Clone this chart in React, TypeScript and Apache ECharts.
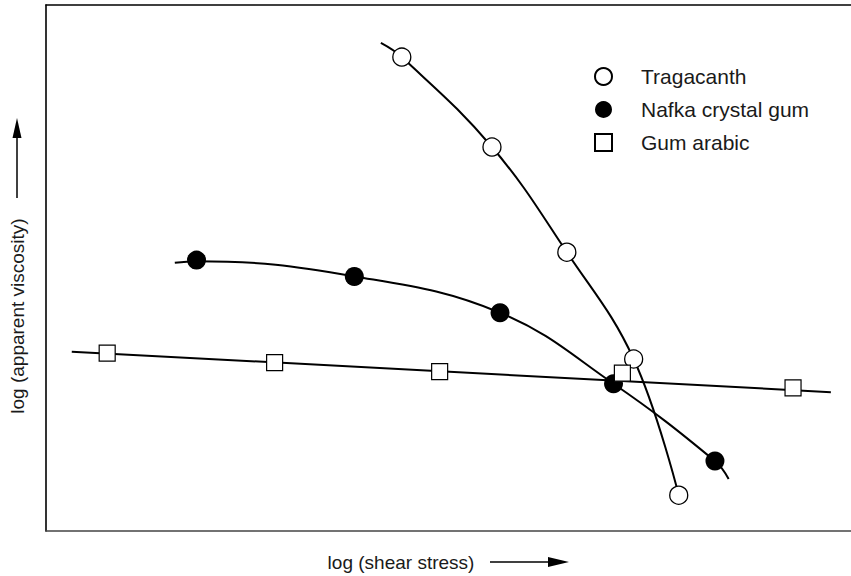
import React, { useEffect, useRef } from "react";
import * as echarts from "echarts";

// Arbitrary log units (no tick labels on the reference)
const xRange = [0, 10];
const yRange = [0, 10];

const seriesNames = ["Tragacanth", "Nafka crystal gum", "Gum arabic"];

// Measured points
const tragacanthPoints = [
  [4.42, 9.01],
  [5.54, 7.3],
  [6.47, 5.3],
  [7.3, 3.27],
  [7.86, 0.68],
];
const nafkaPoints = [
  [1.87, 5.15],
  [3.83, 4.84],
  [5.64, 4.15],
  [7.05, 2.8],
  [8.31, 1.33],
];
const gumArabicPoints = [
  [0.76, 3.38],
  [2.84, 3.2],
  [4.89, 3.03],
  [7.16, 3.0],
  [9.28, 2.72],
];

// Drawn fitted curves (start/end of each hand-drawn line)
const tragacanthCurve = [
  [4.16, 9.28],
  [4.42, 9.01],
  [5.54, 7.3],
  [6.47, 5.3],
  [7.3, 3.27],
  [7.86, 0.68],
];
const nafkaCurve = [
  [1.6, 5.1],
  [1.87, 5.13],
  [3.83, 4.84],
  [5.64, 4.15],
  [7.05, 2.8],
  [8.31, 1.33],
  [8.48, 0.99],
];
const gumArabicFit = [
  [0.32, 3.41],
  [9.75, 2.64],
];

const xTitle = "log (shear stress)";
const yTitle = "log (apparent viscosity)";

const FONT = "'Liberation Sans', Arial, Helvetica, sans-serif";

export default function App() {
  const ref = useRef<HTMLDivElement>(null);

  useEffect(() => {
    if (!ref.current) return;
    const chart = echarts.init(ref.current, undefined, { renderer: "svg" });
    const curveStyle = { color: "#000", width: 2 };
    chart.setOption({
      animation: false,
      backgroundColor: "#fff",
      grid: { left: 46, right: 0, top: 5, bottom: 45 },
      xAxis: [
        {
          type: "value",
          min: xRange[0],
          max: xRange[1],
          position: "bottom",
          axisLine: { show: true, onZero: false, lineStyle: { color: "#444", width: 1.6 } },
          axisTick: { show: false },
          axisLabel: { show: false },
          splitLine: { show: false },
        },
        {
          type: "value",
          min: xRange[0],
          max: xRange[1],
          position: "top",
          axisLine: { show: true, onZero: false, lineStyle: { color: "#000", width: 1.6 } },
          axisTick: { show: false },
          axisLabel: { show: false },
          splitLine: { show: false },
        },
      ],
      yAxis: {
        type: "value",
        min: yRange[0],
        max: yRange[1],
        axisLine: { show: true, onZero: false, lineStyle: { color: "#000", width: 1.6 } },
        axisTick: { show: false },
        axisLabel: { show: false },
        splitLine: { show: false },
      },
      legend: {
        orient: "vertical",
        left: 594,
        top: 66,
        padding: 0,
        itemWidth: 17,
        itemHeight: 17,
        itemGap: 12,
        data: seriesNames,
        textStyle: {
          fontFamily: FONT,
          fontSize: 21,
          lineHeight: 21,
          color: "#1a1a1a",
          padding: [0, 0, 0, 24],
        },
      },
      series: [
        {
          type: "line",
          data: tragacanthCurve,
          smooth: 0.4,
          showSymbol: false,
          symbol: "none",
          lineStyle: curveStyle,
          z: 2,
          silent: true,
        },
        {
          type: "line",
          data: nafkaCurve,
          smooth: 0.4,
          showSymbol: false,
          symbol: "none",
          lineStyle: curveStyle,
          z: 2,
          silent: true,
        },
        {
          type: "line",
          data: gumArabicFit,
          showSymbol: false,
          symbol: "none",
          lineStyle: curveStyle,
          z: 2,
          silent: true,
        },
        {
          name: seriesNames[0],
          type: "scatter",
          data: tragacanthPoints,
          symbol: "circle",
          symbolSize: 18,
          itemStyle: { color: "#fff", borderColor: "#000", borderWidth: 1.3, opacity: 1 },
          z: 4,
        },
        {
          name: seriesNames[1],
          type: "scatter",
          data: nafkaPoints,
          symbol: "circle",
          symbolSize: 19,
          itemStyle: { color: "#000", borderColor: "#000", borderWidth: 0, opacity: 1 },
          z: 4,
        },
        {
          name: seriesNames[2],
          type: "scatter",
          data: gumArabicPoints,
          symbol: "rect",
          symbolSize: 16,
          itemStyle: { color: "#fff", borderColor: "#000", borderWidth: 1.2, opacity: 1 },
          z: 4,
        },
      ],
      graphic: [
        {
          type: "text",
          x: 401,
          y: 562,
          style: {
            text: xTitle,
            fontFamily: FONT,
            fontSize: 19,
            fill: "#1a1a1a",
            align: "center",
            verticalAlign: "middle",
          },
        },
        {
          type: "line",
          shape: { x1: 490, y1: 562, x2: 552, y2: 562 },
          style: { stroke: "#000", lineWidth: 1.5 },
        },
        {
          type: "polygon",
          shape: { points: [[548, 557], [569, 562], [548, 567]] },
          style: { fill: "#000" },
        },
        {
          type: "text",
          x: 17,
          y: 316,
          rotation: Math.PI / 2,
          style: {
            text: yTitle,
            fontFamily: FONT,
            fontSize: 19,
            fill: "#1a1a1a",
            align: "center",
            verticalAlign: "middle",
          },
        },
        {
          type: "line",
          shape: { x1: 17, y1: 198, x2: 17, y2: 135 },
          style: { stroke: "#000", lineWidth: 1.5 },
        },
        {
          type: "polygon",
          shape: { points: [[12.5, 138], [17, 118], [21.5, 138]] },
          style: { fill: "#000" },
        },
      ],
    });
    return () => chart.dispose();
  }, []);

  return (
    <div
      ref={ref}
      style={{ position: "absolute", left: 0, top: 0, width: 851, height: 576, background: "#fff" }}
    />
  );
}
